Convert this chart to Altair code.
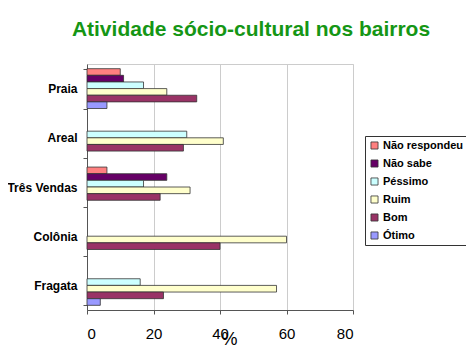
import altair as alt
import pandas as pd

categories = ["Praia", "Areal", "Três Vendas", "Colônia", "Fragata"]
series = ["Não respondeu", "Não sabe", "Péssimo", "Ruim", "Bom", "Ótimo"]
colors = ["#FF8080", "#660066", "#CCFFFF", "#FFFFCC", "#993366", "#9999FF"]

nao_respondeu = [10, 0, 6, 0, 0]
nao_sabe = [11, 0, 24, 0, 0]
pessimo = [17, 30, 17, 0, 16]
ruim = [24, 41, 31, 60, 57]
bom = [33, 29, 22, 40, 23]
otimo = [6, 0, 0, 0, 4]

x_ticks = [0, 20, 40, 60, 80]

rows = []
for s, vals in zip(series, [nao_respondeu, nao_sabe, pessimo, ruim, bom, otimo]):
    for c, v in zip(categories, vals):
        if v > 0:
            rows.append({"bairro": c, "resposta": s, "valor": v})
df = pd.DataFrame(rows)

font = "Liberation Sans"

chart = alt.Chart(df).mark_bar(stroke="#333333", strokeWidth=0.8).encode(
    x=alt.X(
        "valor:Q",
        scale=alt.Scale(domain=[0, 80], nice=False),
        axis=alt.Axis(
            values=x_ticks, title="%", titleFontSize=18, titleFontWeight="normal",
            titleX=142, titleY=34, titleBaseline="alphabetic", titleColor="black", titleFont=font,
            labelFontSize=15, labelFont=font, labelColor="black", labelPadding=12,
            domainColor="#555555", tickColor="#555555", tickSize=4,
            gridColor="#cccccc", grid=True,
        ),
    ),
    y=alt.Y(
        "bairro:N",
        sort=categories,
        scale=alt.Scale(domain=categories, paddingInner=0.19, paddingOuter=0.095),
        axis=alt.Axis(
            title=None, tickBand="extent", labelFontWeight="bold", labelFontSize=12,
            labelFont=font, labelColor="black", labelPadding=6, tickSize=4,
            domainColor="#555555", tickColor="#555555", grid=False,
        ),
    ),
    yOffset=alt.YOffset("resposta:N", sort=series, scale=alt.Scale(domain=series, paddingInner=0, paddingOuter=0)),
    color=alt.Color(
        "resposta:N",
        scale=alt.Scale(domain=series, range=colors),
        legend=alt.Legend(
            title=None, orient="none", legendX=278, legendY=72,
            labelFont=font, labelFontSize=11, labelFontWeight="bold", labelColor="black",
            symbolType="square", symbolSize=50, symbolStrokeColor="#333333", symbolStrokeWidth=0.8,
            rowPadding=6, strokeColor="#333333", fillColor="white", padding=4,
            labelOffset=3, labelLimit=200,
        ),
    ),
).properties(
    width=266,
    height=246,
    autosize=alt.AutoSizeParams(type="none"),
    padding={"left": 79, "top": 56, "right": 113, "bottom": 37},
    title=alt.TitleParams(
        "Atividade sócio-cultural nos bairros",
        font=font, fontSize=21, fontWeight="bold", color="#159615",
        anchor="middle", dx=31, offset=18,
    ),
).configure_view(stroke="#cccccc")

chart.save("out.html", embed_options={"renderer": "svg", "actions": False})
